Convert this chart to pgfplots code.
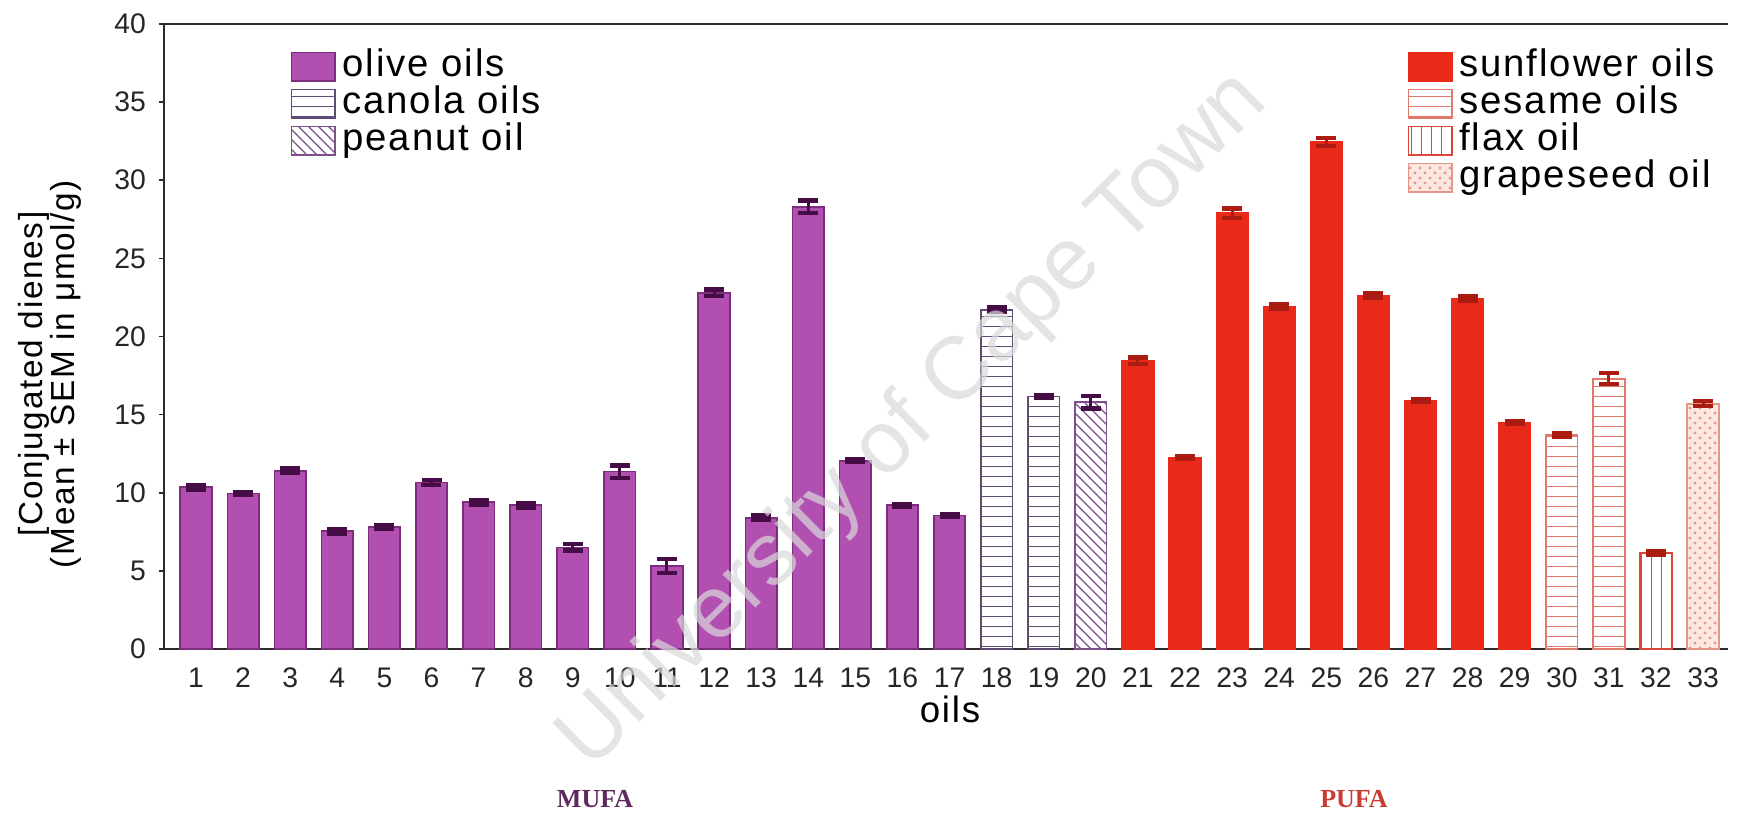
\documentclass[border=0pt]{standalone}
\usepackage{fontspec}
\setmainfont{Liberation Sans}
\newfontfamily\legfont[LetterSpace=5]{Liberation Sans}
\newfontfamily\serifb{Liberation Serif}
\usepackage{pgfplots}
\pgfplotsset{compat=1.18}
\usetikzlibrary{patterns}

\definecolor{oliveC}{RGB}{178,80,178}
\definecolor{oliveE}{RGB}{125,45,125}
\definecolor{oliveErr}{RGB}{70,12,70}
\definecolor{canolaL}{RGB}{95,75,115}
\definecolor{peanutL}{RGB}{125,80,140}
\definecolor{sunC}{RGB}{234,42,24}
\definecolor{sunErr}{RGB}{170,28,18}
\definecolor{sesL}{RGB}{225,120,105}
\definecolor{flaxL}{RGB}{215,70,55}
\definecolor{grapeF}{RGB}{252,232,225}
\definecolor{grapeL}{RGB}{230,150,135}
\definecolor{axisC}{RGB}{45,45,45}
\definecolor{mufaC}{RGB}{95,40,95}
\definecolor{pufaC}{RGB}{200,60,50}

\pgfplotsset{
  base/.style={
    scale only axis, width=469.2pt, height=187.5pt,
    xmin=0.32, xmax=33.53, ymin=0, ymax=40,
    clip=false,
  },
  legimg/.style={legend image code/.code={\draw[##1] (0pt,-4.25pt) rectangle (13pt,4.25pt);}},
  barbase/.style={ybar, bar width=0.67, bar shift=0pt, line width=0.5pt, legimg},
  errO/.style={error bars/.cd, y dir=both, y explicit,
    error bar style={line width=0.9pt, oliveErr},
    error mark options={rotate=90, line width=1.3pt, mark size=3pt, oliveErr}},
  errS/.style={error bars/.cd, y dir=both, y explicit,
    error bar style={line width=0.9pt, sunErr},
    error mark options={rotate=90, line width=1.3pt, mark size=3pt, sunErr}},
  legsty/.style={legend style={draw=none, fill=none, inner sep=0pt,
    font=\legfont\fontsize{11.5}{12}\selectfont, row sep=0.2pt,
    nodes={text height=8.4pt, text depth=2.5pt, inner ysep=0pt, inner xsep=2pt}},
    legend cell align=left},
}

\begin{document}
\begin{tikzpicture}
\begin{axis}[base,
  axis x line*=bottom, axis y line*=left,
  axis line style={axisC, line width=0.5pt},
  ytick={0,5,...,40}, xtick={1,...,33},
  tick align=outside, major tick length=1.6pt,
  xtick style={draw=none}, ytick style={axisC, line width=0.5pt},
  /pgf/number format/assume math mode=true,
  tick label style={font=\fontsize{8.5}{10}\selectfont, text=black!85},
  xticklabel style={anchor=center, yshift=-7pt},
  yticklabel style={anchor=east, inner sep=0pt, xshift=-3.6pt},
  xlabel={oils},
  xlabel style={at={(axis description cs:0.5026,0)}, anchor=center, yshift=-18pt, font=\legfont\fontsize{11}{13}\selectfont},
  ylabel={[Conjugated dienes]\\(Mean ± SEM in μmol/g)},
  ylabel style={at={(axis description cs:-0.0728,0.44)}, anchor=center, align=center, font=\legfont\fontsize{10}{9.6}\selectfont},
  legsty, legend style={at={(0.0806,0.9616)}, anchor=north west},
  after end axis/.code={\draw[axisC, line width=0.5pt] (rel axis cs:0,1) -- (rel axis cs:1,1);},
]
\addplot[barbase, fill=oliveC, draw=oliveE, errO] coordinates {
 (1,10.35) +- (0,0.15)
 (2,9.95) +- (0,0.1)
 (3,11.4) +- (0,0.15)
 (4,7.55) +- (0,0.15)
 (5,7.8) +- (0,0.1)
 (6,10.65) +- (0,0.15)
 (7,9.4) +- (0,0.15)
 (8,9.2) +- (0,0.15)
 (9,6.5) +- (0,0.2)
 (10,11.35) +- (0,0.4)
 (11,5.3) +- (0,0.45)
 (12,22.8) +- (0,0.2)
 (13,8.4) +- (0,0.15)
 (14,28.3) +- (0,0.4)
 (15,12.05) +- (0,0.1)
 (16,9.2) +- (0,0.1)
 (17,8.55) +- (0,0.1)
};
\addlegendentry{olive oils}
\addplot[barbase, draw=canolaL, fill=white, postaction={pattern=horizontal lines, pattern color=canolaL}, errO] coordinates {
 (18,21.7) +- (0,0.15)
 (19,16.15) +- (0,0.1)
};
\addlegendentry{canola oils}
\addplot[barbase, draw=peanutL, fill=white, postaction={pattern=north west lines, pattern color=peanutL}, errO] coordinates {
 (20,15.8) +- (0,0.4)
};
\addlegendentry{peanut oil}
\end{axis}

\begin{axis}[base, hide axis,
  legsty, legend style={at={(0.7948,0.9616)}, anchor=north west},
]
\addplot[barbase, fill=sunC, draw=sunC, errS] coordinates {
 (21,18.45) +- (0,0.2)
 (22,12.25) +- (0,0.1)
 (23,27.9) +- (0,0.3)
 (24,21.9) +- (0,0.15)
 (25,32.45) +- (0,0.25)
 (26,22.6) +- (0,0.15)
 (27,15.9) +- (0,0.1)
 (28,22.4) +- (0,0.15)
 (29,14.5) +- (0,0.1)
};
\addlegendentry{sunflower oils}
\addplot[barbase, draw=sesL, fill=white, postaction={pattern=horizontal lines, pattern color=sesL}, errS] coordinates {
 (30,13.7) +- (0,0.1)
 (31,17.3) +- (0,0.35)
};
\addlegendentry{sesame oils}
\addplot[barbase, draw=flaxL, fill=white, postaction={pattern=vertical lines, pattern color=flaxL}, errS] coordinates {
 (32,6.15) +- (0,0.1)
};
\addlegendentry{flax oil}
\addplot[barbase, draw=grapeL, fill=grapeF, postaction={pattern=crosshatch dots, pattern color=grapeL}, errS] coordinates {
 (33,15.7) +- (0,0.15)
};
\addlegendentry{grapeseed oil}
\end{axis}

\node[rotate=44.5, font=\fontsize{26.5}{30}\selectfont, text=gray!30, opacity=0.7] at (225pt,68.4pt) {University of Cape Town};
\node[font=\serifb\bfseries\fontsize{7.8}{9}\selectfont, text=mufaC] at (129.3pt,-45pt) {MUFA};
\node[font=\serifb\bfseries\fontsize{7.8}{9}\selectfont, text=pufaC] at (357pt,-45pt) {PUFA};

\pgfresetboundingbox
\path[use as bounding box] (-49.2pt,-50.7pt) rectangle (471.9pt,194.7pt);
\end{tikzpicture}
\end{document}
